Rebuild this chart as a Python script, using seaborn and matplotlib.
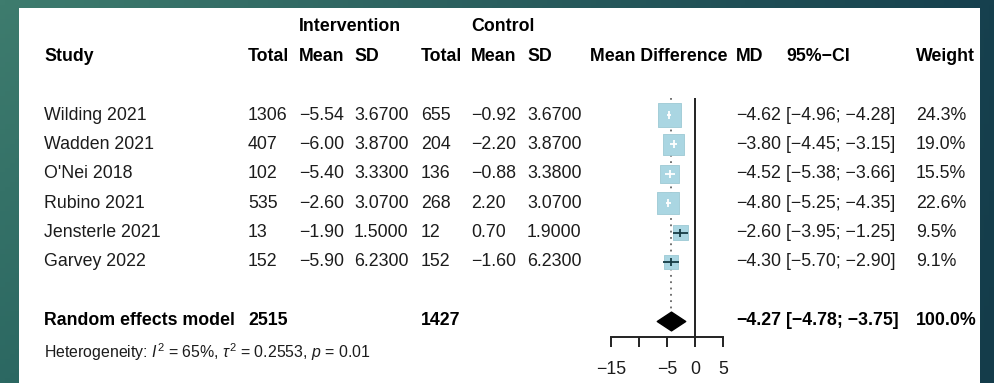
import numpy as np
import pandas as pd
import matplotlib
matplotlib.use("Agg")
import matplotlib.pyplot as plt
import seaborn as sns
from matplotlib import transforms
from matplotlib.patches import Rectangle
from matplotlib.path import Path

# ---------------- data ----------------
studies = ["Wilding 2021", "Wadden 2021", "O'Nei 2018", "Rubino 2021",
           "Jensterle 2021", "Garvey 2022"]
int_total = [1306, 407, 102, 535, 13, 152]
int_mean = [-5.54, -6.00, -5.40, -2.60, -1.90, -5.90]
int_sd = [3.67, 3.87, 3.33, 3.07, 1.50, 6.23]
ctl_total = [655, 204, 136, 268, 12, 152]
ctl_mean = [-0.92, -2.20, -0.88, 2.20, 0.70, -1.60]
ctl_sd = [3.67, 3.87, 3.38, 3.07, 1.90, 6.23]
md = [-4.62, -3.80, -4.52, -4.80, -2.60, -4.30]
ci_low = [-4.96, -4.45, -5.38, -5.25, -3.95, -5.70]
ci_high = [-4.28, -3.15, -3.66, -4.35, -1.25, -2.90]
weight = [24.3, 19.0, 15.5, 22.6, 9.5, 9.1]

pooled_label = "Random effects model"
pooled_int_total = 2515
pooled_ctl_total = 1427
pooled_md = -4.27
pooled_low = -4.78
pooled_high = -3.75
pooled_weight = 100.0
heterogeneity = r"Heterogeneity: $I^2$ = 65%, $\tau^2$ = 0.2553, $p$ = 0.01"

x_ticks = [-15, -10, -5, 0, 5]
x_ticklabels = ["\u221215", "", "\u22125", "0", "5"]

# ---------------- style ----------------
sns.set_style("white")
plt.rcParams["font.family"] = ["Liberation Sans", "DejaVu Sans"]
plt.rcParams["mathtext.fontset"] = "custom"
plt.rcParams["mathtext.rm"] = "Liberation Sans"
plt.rcParams["mathtext.it"] = "Liberation Sans:italic"
plt.rcParams["mathtext.bf"] = "Liberation Sans:bold"

W, H = 994, 383
FS = 12.8
TXT = "#1c1c1c"


def m(v, fmt):
    return format(v, fmt).replace("-", "\u2212")


fig = plt.figure(figsize=(W / 100, H / 100), dpi=100)

# background gradient
bg = fig.add_axes([0, 0, 1, 1], zorder=-10)
tl = np.array([62, 124, 110]) / 255
tr = np.array([22, 64, 78]) / 255
bl = np.array([44, 104, 98]) / 255
br = np.array([20, 60, 74]) / 255
xs = np.linspace(0, 1, 200)[None, :, None]
ys = np.linspace(0, 1, 80)[:, None, None]
grad = (1 - ys) * ((1 - xs) * tl + xs * tr) + ys * ((1 - xs) * bl + xs * br)
bg.imshow(grad, aspect="auto", extent=[0, 1, 0, 1], origin="upper")
bg.set_axis_off()

# white panel
fig.patches.append(Rectangle((19 / W, 0), (980 - 19) / W, (H - 8) / H,
                             transform=fig.transFigure, facecolor="white",
                             edgecolor="none", zorder=-5))

# forest axes: x from -15 (px 611) to 5 (px 723); rows: px = 85.6 + 29.4*r
ax_top_px, ax_bot_px = 98, 337
ax = fig.add_axes([611 / W, 1 - ax_bot_px / H, (723 - 611) / W,
                   (ax_bot_px - ax_top_px) / H])
ax.patch.set_alpha(0)
r_top = (ax_top_px - 85.6) / 29.4
r_bot = (ax_bot_px - 85.6) / 29.4
ax.set_xlim(-15, 5)
ax.set_ylim(r_bot, r_top)

rows = np.arange(1, len(studies) + 1)
pooled_row = len(studies) + 2
het_row = pooled_row + 1

# reference lines
ax.axvline(0, color="#222222", lw=1.4, zorder=1)
ax.vlines(pooled_md, r_top, pooled_row - 0.3, colors="#666666",
          linestyles=(0, (1, 2.5)), lw=1.3, zorder=1)

# squares
side_px = 4.7 * np.sqrt(np.array(weight))
df = pd.DataFrame({"md": md, "row": rows, "s": (side_px * 0.72) ** 2})
sns.scatterplot(data=df, x="md", y="row", s=df["s"].values, marker="s",
                color="#aad6e2", edgecolor="#9cc9d4", linewidth=0.6,
                ax=ax, legend=False, zorder=3, clip_on=False)

# CI lines and centre ticks
px_per_unit = (723 - 611) / 20
for i in range(len(studies)):
    width_px = (ci_high[i] - ci_low[i]) * px_per_unit
    c = "white" if width_px < side_px[i] else "#163c44"
    ax.hlines(rows[i], ci_low[i], ci_high[i], colors=c, lw=1.3, zorder=4)
    ax.plot(md[i], rows[i], marker="|", markersize=6, mew=1.3, color=c,
            zorder=4)

# diamond (pooled estimate)
diamond = Path([(-1, 0), (0, 0.66), (1, 0), (0, -0.66), (-1, 0)],
               [Path.MOVETO, Path.LINETO, Path.LINETO, Path.LINETO,
                Path.CLOSEPOLY])
ax.plot(pooled_md, pooled_row, marker=diamond, markersize=20.5,
        color="black", zorder=5, clip_on=False)

# axis styling
for s in ["top", "left", "right"]:
    ax.spines[s].set_visible(False)
ax.spines["bottom"].set_linewidth(1.4)
ax.spines["bottom"].set_color("#222222")
ax.set_xticks(x_ticks)
ax.set_xticklabels(x_ticklabels)
ax.set_yticks([])
ax.tick_params(axis="x", direction="out", length=7.2, width=1.4,
               color="#222222", labelsize=FS, labelcolor=TXT, pad=10,
               bottom=True)
ax.set_xlabel("")
ax.set_ylabel("")

# text table
tr_txt = transforms.blended_transform_factory(fig.transFigure, ax.transData)


def put(px, row, s, bold=False, size=FS, color=TXT):
    fig.text(px / W, row, s, transform=tr_txt, ha="left", va="center",
             fontsize=size, fontweight="bold" if bold else "normal",
             color=color)


cols = {"study": 44, "it": 248, "im": 299, "isd": 354, "ct": 421,
        "cm": 471, "csd": 527, "mdh": 590, "md": 736, "ci": 786, "w": 916}

put(cols["im"], -2, "Intervention", bold=True, color="black")
put(cols["cm"], -2, "Control", bold=True, color="black")
for key, lab in [("study", "Study"), ("it", "Total"), ("im", "Mean"),
                 ("isd", "SD"), ("ct", "Total"), ("cm", "Mean"),
                 ("csd", "SD"), ("mdh", "Mean Difference"), ("md", "MD"),
                 ("ci", "95%\u2212CI"), ("w", "Weight")]:
    put(cols[key], -1, lab, bold=True, color="black")

for i, r in enumerate(rows):
    put(cols["study"], r, studies[i])
    put(cols["it"], r, str(int_total[i]))
    put(cols["im"], r, m(int_mean[i], ".2f"))
    put(cols["isd"], r, m(int_sd[i], ".4f"))
    put(cols["ct"], r, str(ctl_total[i]))
    put(cols["cm"], r, m(ctl_mean[i], ".2f"))
    put(cols["csd"], r, m(ctl_sd[i], ".4f"))
    put(cols["md"], r, m(md[i], ".2f"))
    put(cols["ci"], r, "[" + m(ci_low[i], ".2f") + "; " + m(ci_high[i], ".2f") + "]")
    put(cols["w"], r, f"{weight[i]:.1f}%")

put(cols["study"], pooled_row, pooled_label, bold=True, color="black")
put(cols["it"], pooled_row, str(pooled_int_total), bold=True, color="black")
put(cols["ct"], pooled_row, str(pooled_ctl_total), bold=True, color="black")
put(cols["md"], pooled_row, m(pooled_md, ".2f"), bold=True, color="black")
put(cols["ci"], pooled_row,
    "[" + m(pooled_low, ".2f") + "; " + m(pooled_high, ".2f") + "]",
    bold=True, color="black")
put(cols["w"], pooled_row, f"{pooled_weight:.1f}%", bold=True, color="black")
put(cols["study"], het_row + 0.08, heterogeneity, size=11.4)

fig.savefig("out.png", dpi=100)
